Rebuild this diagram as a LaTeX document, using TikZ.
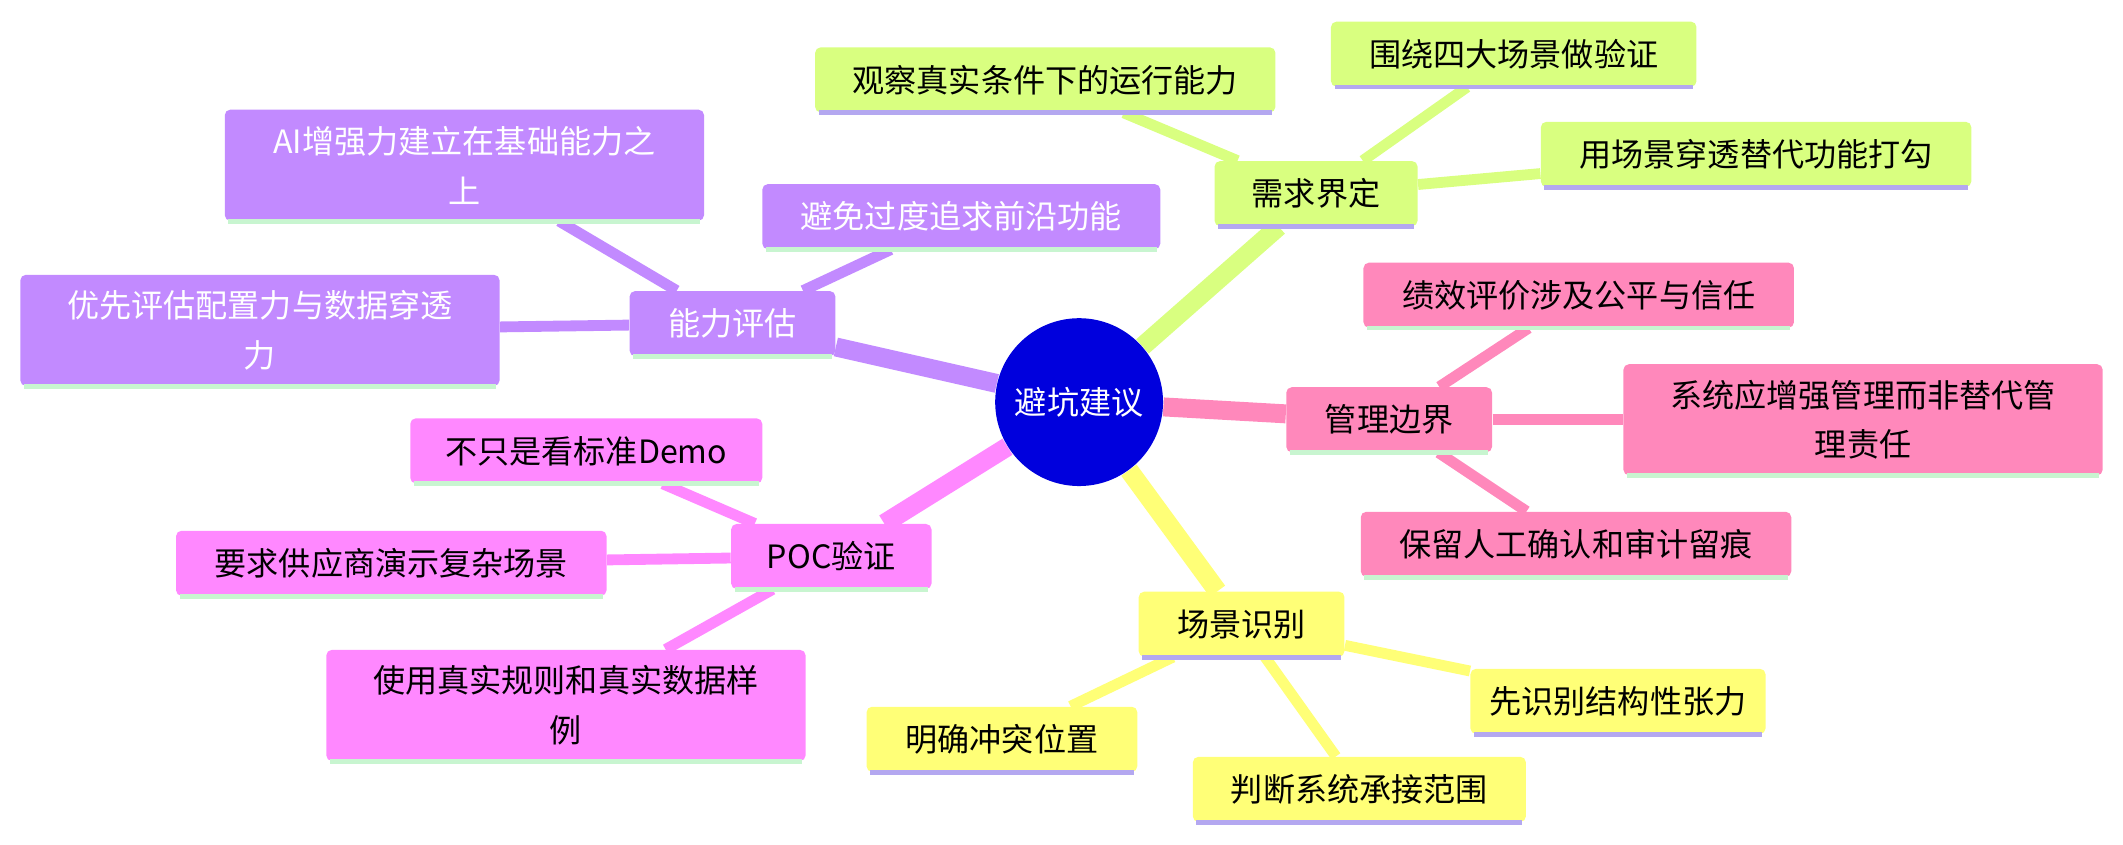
\documentclass[tikz,border=0pt]{standalone}
\usepackage{fontspec}
\setmainfont{Noto Sans CJK SC}
\usetikzlibrary{backgrounds}

\definecolor{rootblue}{HTML}{0000DD}
\definecolor{limec}{HTML}{D9FF80}
\definecolor{purplec}{HTML}{C28AFF}
\definecolor{pinkc}{HTML}{FF88BB}
\definecolor{magentac}{HTML}{FF88FF}
\definecolor{yellowc}{HTML}{FFFF77}
\definecolor{lavline}{HTML}{B4A8F0}
\definecolor{mintline}{HTML}{C8F5D0}

\tikzset{
  box/.style = {rectangle, rounded corners = 0.08cm, minimum height = 0.96cm,
    inner sep = 0.1cm, align = center, font = \fontsize{13.5}{21}\selectfont},
  twoline/.style = {box, minimum height = 1.64cm},
  trunk/.style = {line width = 0.28cm},
  twig/.style = {line width = 0.16cm},
  ul/.style = {line width = 0.07cm}
}

\newcommand{\under}[2]{\draw[ul, #2] ([xshift = 0.06cm]#1.south west) -- ([xshift = -0.06cm]#1.south east);}

\begin{document}
\begin{tikzpicture}[x = 0.02cm, y = -0.02cm]
  \useasboundingbox (0, 0) rectangle (1568, 624);

  \node[circle, fill = rootblue, text = white, minimum size = 2.48cm,
  font = \fontsize{13.5}{16}\selectfont] (root) at (797, 297) {避坑建议};

  % branches
  \node[box, fill = limec, minimum width = 3cm] (need) at (972, 143) {需求界定};
  \node[box, fill = purplec, text = white, minimum width = 3.04cm] (cap) at (541, 239) {能力评估};
  \node[box, fill = pinkc, minimum width = 3.04cm] (mgmt) at (1026, 310) {管理边界};
  \node[box, fill = magentac, minimum width = 2.96cm] (poc) at (614, 411) {POC验证};
  \node[box, fill = yellowc, minimum width = 3.04cm] (scene) at (917, 461) {场景识别};

  % leaves
  \node[box, fill = limec, minimum width = 6.8cm] (need1) at (772, 59) {观察真实条件下的运行能力};
  \node[box, fill = limec, minimum width = 5.4cm] (need2) at (1118, 40) {围绕四大场景做验证};
  \node[box, fill = limec, minimum width = 6.36cm] (need3) at (1297, 114) {用场景穿透替代功能打勾};

  \node[twoline, fill = purplec, text = white, minimum width = 7.08cm] (cap1) at (343, 122) {AI增强力建立在基础能力之\\上};
  \node[box, fill = purplec, text = white, minimum width = 5.88cm] (cap2) at (710, 160) {避免过度追求前沿功能};
  \node[twoline, fill = purplec, text = white, minimum width = 7.08cm] (cap3) at (192, 244) {优先评估配置力与数据穿透\\力};

  \node[box, fill = pinkc, minimum width = 6.36cm] (mgmt1) at (1166, 218) {绩效评价涉及公平与信任};
  \node[twoline, fill = pinkc, minimum width = 7.08cm] (mgmt2) at (1376, 310) {系统应增强管理而非替代管\\理责任};
  \node[box, fill = pinkc, minimum width = 6.36cm] (mgmt3) at (1164, 402) {保留人工确认和审计留痕};

  \node[box, fill = magentac, minimum width = 5.2cm] (poc1) at (433, 333) {不只是看标准Demo};
  \node[box, fill = magentac, minimum width = 6.36cm] (poc2) at (289, 416) {要求供应商演示复杂场景};
  \node[twoline, fill = magentac, minimum width = 7.08cm] (poc3) at (418, 521) {使用真实规则和真实数据样\\例};

  \node[box, fill = yellowc, minimum width = 4cm] (scene1) at (740, 546) {明确冲突位置};
  \node[box, fill = yellowc, minimum width = 4.92cm] (scene2) at (1004, 583) {判断系统承接范围};
  \node[box, fill = yellowc, minimum width = 4.36cm] (scene3) at (1195, 518) {先识别结构性张力};

  \foreach \n in {need, need1, need2, need3, scene, scene1, scene2, scene3}
    {\under{\n}{lavline}}
  \foreach \n in {cap, cap1, cap2, cap3, mgmt, mgmt1, mgmt2, mgmt3, poc, poc1, poc2, poc3}
    {\under{\n}{mintline}}

  \begin{scope}[on background layer]
    \draw[trunk, limec] (root) -- (need);
    \draw[trunk, purplec] (root) -- (cap);
    \draw[trunk, pinkc] (root) -- (mgmt);
    \draw[trunk, magentac] (root) -- (poc);
    \draw[trunk, yellowc] (root) -- (scene);
    \foreach \n in {need1, need2, need3}
      {\draw[twig, limec] (need) -- (\n);}
    \foreach \n in {cap1, cap2, cap3}
      {\draw[twig, purplec] (cap) -- (\n);}
    \foreach \n in {mgmt1, mgmt2, mgmt3}
      {\draw[twig, pinkc] (mgmt) -- (\n);}
    \foreach \n in {poc1, poc2, poc3}
      {\draw[twig, magentac] (poc) -- (\n);}
    \foreach \n in {scene1, scene2, scene3}
      {\draw[twig, yellowc] (scene) -- (\n);}
  \end{scope}
\end{tikzpicture}
\end{document}
